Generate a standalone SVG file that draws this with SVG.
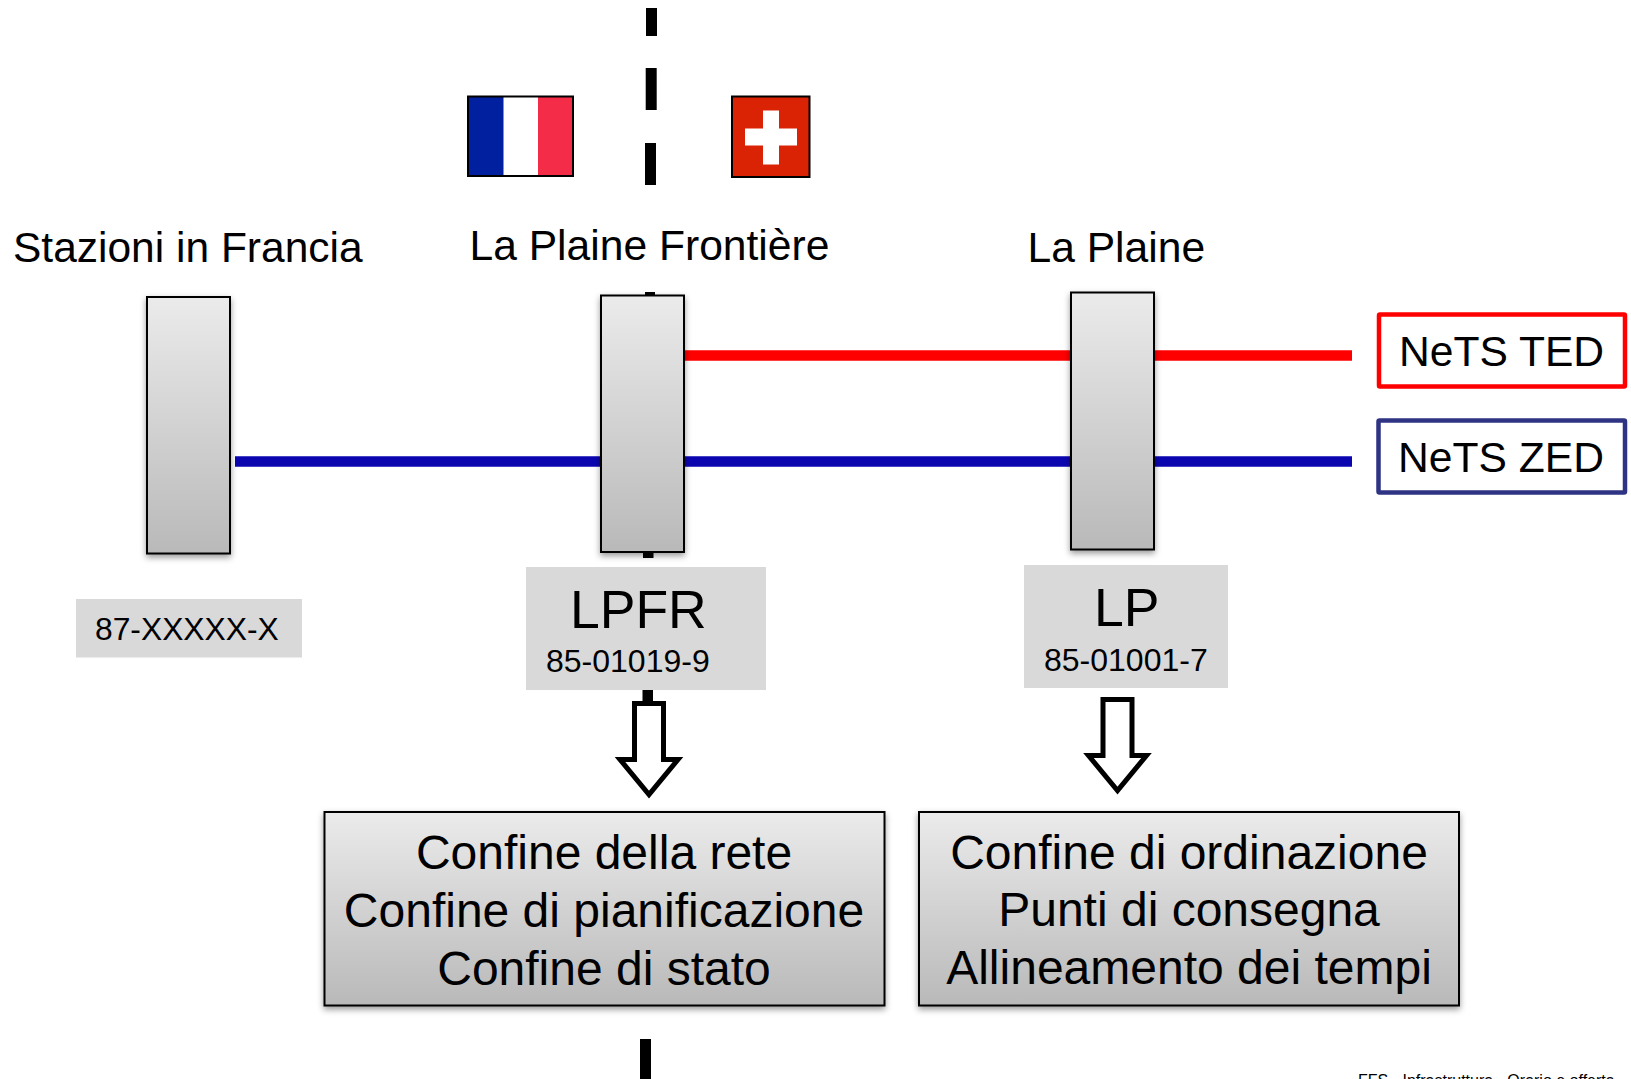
<svg xmlns="http://www.w3.org/2000/svg" width="1631" height="1079" viewBox="0 0 1631 1079">
<style>
text{font-family:"Liberation Sans",Arial,sans-serif;fill:#000}
.m{text-anchor:middle}
.b{fill:url(#g);stroke:#000;stroke-width:2;filter:url(#s)}
.d{fill:#000}
.l{fill:#d9d9d9}
.a{fill:#fff;stroke:#000;stroke-width:5}
</style>
<defs>
<linearGradient id="g" x1="0" y1="0" x2="0" y2="1"><stop offset="0" stop-color="#ebebeb"/><stop offset="1" stop-color="#b9b9b9"/></linearGradient>
<filter id="s" x="-10%" y="-10%" width="120%" height="120%"><feDropShadow dx="0" dy="3" stdDeviation="3" flood-color="#000" flood-opacity=".4"/></filter>
</defs>
<g id="border">
<rect class="d" x="646" y="8" width="11" height="28"/>
<rect class="d" x="645.700" y="68" width="11" height="42"/>
<rect class="d" x="645" y="143" width="11" height="42"/>
<rect class="d" x="645" y="292" width="10" height="6"/>
<rect class="d" x="643" y="550" width="10.500" height="8"/>
<rect class="d" x="642.500" y="690" width="10.500" height="14"/>
<rect class="d" x="640" y="1039" width="11" height="40"/>
</g>
<g id="flag-fr">
<rect x="468" y="96.500" width="105" height="79.500" fill="#fff"/>
<rect x="468" y="96.500" width="35.500" height="79.500" fill="#00209f"/>
<rect x="538" y="96.500" width="35" height="79.500" fill="#f42c47"/>
<rect x="468" y="96.500" width="105" height="79.500" fill="none" stroke="#000" stroke-width="2"/>
</g>
<g id="flag-ch">
<rect x="732" y="96.500" width="77.500" height="80.500" fill="#da2205" stroke="#000" stroke-width="2"/>
<path d="M763 110.500h16v18h18v17h-18v19h-16v-19h-18v-17h18z" fill="#fff"/>
</g>
<g id="connectors">
<line x1="684" y1="355.500" x2="1352" y2="355.500" stroke="#f00" stroke-width="10.500"/>
<line x1="235" y1="461.500" x2="1352" y2="461.500" stroke="#0b05b0" stroke-width="10.500"/>
</g>
<g id="station-fr"><rect class="b" x="147" y="297" width="83" height="256.500"/></g>
<g id="station-lpfr"><rect class="b" x="601" y="295.500" width="83" height="256.500"/></g>
<g id="station-lp"><rect class="b" x="1071" y="292.500" width="83" height="257"/></g>
<g id="label-fr"><text x="13" y="262" font-size="42.500">Stazioni in Francia</text></g>
<g id="label-lpfr"><text x="469.500" y="260" font-size="42.600">La Plaine Frontière</text></g>
<g id="label-lp"><text x="1027.500" y="262" font-size="42.600">La Plaine</text></g>
<g id="net-ted"><rect x="1379" y="314.500" width="246" height="72" fill="#fff" stroke="#f00" stroke-width="4.500" rx="1"/><text x="1399" y="366" font-size="42.600">NeTS TED</text></g>
<g id="net-zed"><rect x="1378.500" y="420.500" width="246.500" height="72" fill="#fff" stroke="#2e3383" stroke-width="4.500" rx="1"/><text x="1398" y="472" font-size="42.600">NeTS ZED</text></g>
<g id="code-fr"><rect class="l" x="76" y="599" width="226" height="58.500"/><text x="95" y="640" font-size="31.800">87-XXXXX-X</text></g>
<g id="code-lpfr"><rect class="l" x="526" y="567" width="240" height="123"/><text x="570" y="628" font-size="53.500">LPFR</text><text x="546" y="672" font-size="32">85-01019-9</text></g>
<g id="code-lp"><rect class="l" x="1024" y="565" width="204" height="123"/><text x="1094" y="626" font-size="53.500">LP</text><text x="1044" y="670.500" font-size="32">85-01001-7</text></g>
<g id="arrow-1"><path class="a" d="M634.500 703.500h29v56h14.500l-29 35-29-35h14.500z"/></g>
<g id="arrow-2"><path class="a" d="M1103 699.500h29v56h14.500l-29 35-29-35h14.500z"/></g>
<g id="box-a"><rect class="b" x="324.500" y="812" width="560" height="193.500"/>
<text class="m" x="604" y="869" font-size="48">Confine della rete</text>
<text class="m" x="604" y="927" font-size="48">Confine di pianificazione</text>
<text class="m" x="604" y="985" font-size="48">Confine di stato</text></g>
<g id="box-b"><rect class="b" x="919" y="812" width="540" height="193.500"/>
<text class="m" x="1189" y="869" font-size="48">Confine di ordinazione</text>
<text class="m" x="1189" y="926" font-size="48">Punti di consegna</text>
<text class="m" x="1189" y="984" font-size="48">Allineamento dei tempi</text></g>
<g id="footer"><text x="1358" y="1086" font-size="16">FFS - Infrastruttura - Orario e offerta</text></g>
</svg>
